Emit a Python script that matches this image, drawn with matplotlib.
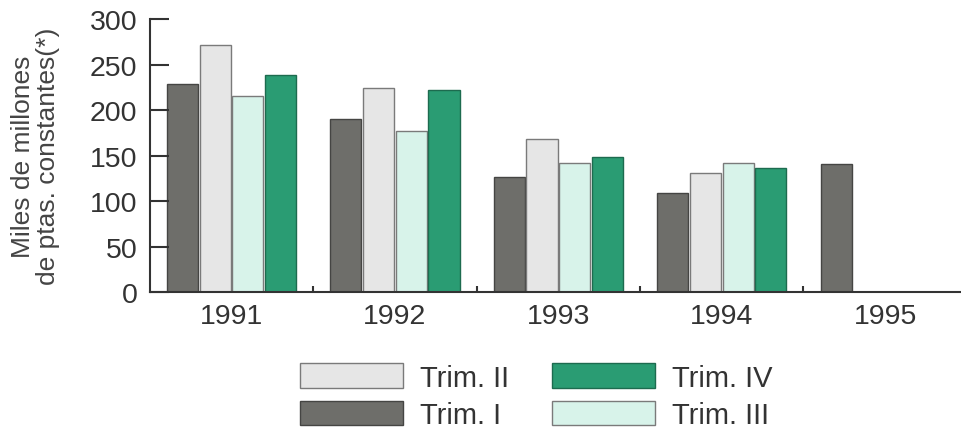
import numpy as np
import matplotlib.pyplot as plt

plt.rcParams['font.family'] = ['Liberation Sans', 'DejaVu Sans']

years = ['1991', '1992', '1993', '1994', '1995']
trim_1 = [229, 190, 127, 109, 141]
trim_2 = [272, 224, 168, 131, np.nan]
trim_3 = [216, 177, 142, 142, np.nan]
trim_4 = [238, 222, 149, 136, np.nan]

series = [
    ('Trim. I', trim_1, '#6e6e6a', '#454543'),
    ('Trim. II', trim_2, '#e6e6e6', '#7a7a7a'),
    ('Trim. III', trim_3, '#d8f3ea', '#7a7a7a'),
    ('Trim. IV', trim_4, '#2a9c73', '#1d6b4f'),
]

fig = plt.figure(figsize=(9.61, 4.35), dpi=100)
ax = fig.add_axes([0.156, 0.326, 0.85, 0.628])

x = np.arange(len(years))
step = 0.2
bars = {}
for i, (name, vals, fc, ec) in enumerate(series):
    bars[name] = ax.bar(x + (i - 1.5) * step, vals, width=0.19, color=fc,
                        edgecolor=ec, linewidth=1.0, label=name)

ax.set_xlim(-0.5, 4.5)
ax.set_ylim(0, 300)
ax.set_yticks([0, 50, 100, 150, 200, 250, 300])
ax.set_xticks(x)
ax.set_xticklabels(years)
ax.set_xticks(x[:-1] + 0.5, minor=True)

for s in ['top', 'right']:
    ax.spines[s].set_visible(False)
for s in ['left', 'bottom']:
    ax.spines[s].set_color('#333333')
    ax.spines[s].set_linewidth(1.5)

ax.tick_params(axis='y', direction='in', length=14, width=1.5, color='#333333',
               labelsize=20.5, labelcolor='#333333', pad=9)
ax.tick_params(axis='x', which='major', length=0, labelsize=20.5,
               labelcolor='#333333', pad=8)
ax.tick_params(axis='x', which='minor', direction='in', length=4, width=1.5,
               color='#333333')

ax.set_ylabel('Miles de millones\nde ptas. constantes(*)', fontsize=19,
              color='#444444', linespacing=1.05)
ax.yaxis.set_label_coords(-0.110, 0.5)

order = ['Trim. II', 'Trim. I', 'Trim. IV', 'Trim. III']
fig.legend([bars[n] for n in order], order, loc='center',
           bbox_to_anchor=(0.558, 0.087), ncol=2, frameon=False, fontsize=21,
           handlelength=3.53, handleheight=0.92, handletextpad=0.58,
           columnspacing=1.5, labelspacing=0.3, labelcolor='#333333')

fig.savefig('out.png', dpi=100)
